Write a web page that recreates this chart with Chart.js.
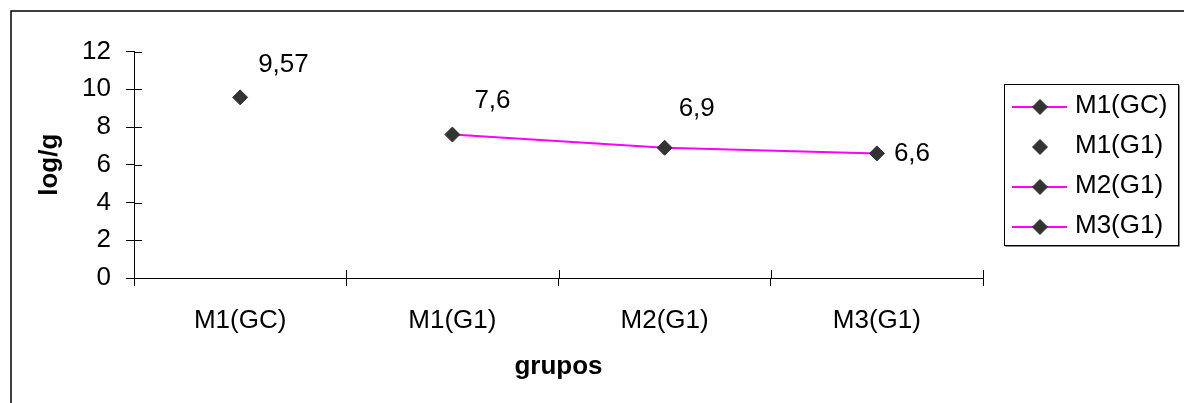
<!DOCTYPE html>
<html><head><meta charset="utf-8">
<script src="https://cdn.jsdelivr.net/npm/chart.js@4/dist/chart.umd.min.js"></script>
<style>html,body{margin:0;padding:0;background:#fff;overflow:hidden}canvas{display:block}</style>
</head><body>
<canvas id="c" width="1184" height="403"></canvas>
<script>
// ---- data ----
const categories = ['M1(GC)', 'M1(G1)', 'M2(G1)', 'M3(G1)'];
const seriesNames = ['M1(GC)', 'M1(G1)', 'M2(G1)', 'M3(G1)'];
const connectedValues = [null, 7.6, 6.9, 6.6];
const isolatedValues = [9.57, null, null, null];
const emptyValues = [null, null, null, null];
const yTicks = [0, 2, 4, 6, 8, 10, 12];
const xTitle = 'grupos';
const yTitle = 'log/g';

// ---- styles ----
const FONT = "'Liberation Sans', Arial, sans-serif";
const FS = 26;
const MAGENTA = '#ff00ff';
const MARK = '#333333';
const labelOffsets = [{dx: 18, dy: -33}, {dx: 22, dy: -34}, {dx: 14, dy: -39}, {dx: 17, dy: 0}];

function ds(label, data, showLine) {
  return {
    label, data, showLine,
    borderColor: MAGENTA, borderWidth: 2,
    pointStyle: 'rectRot', pointRadius: 7.5, pointHoverRadius: 7.5,
    pointBackgroundColor: MARK, pointBorderColor: MARK, pointBorderWidth: 1,
    spanGaps: false, clip: false
  };
}

const decorPlugin = {
  id: 'decor',
  beforeDraw(chart) {
    const ctx = chart.ctx;
    ctx.save();
    ctx.fillStyle = '#fff';
    ctx.fillRect(0, 0, chart.width, chart.height);
    ctx.strokeStyle = '#000';
    ctx.lineWidth = 1.5;
    ctx.beginPath();
    ctx.moveTo(11, chart.height + 2);
    ctx.lineTo(11, 11);
    ctx.lineTo(chart.width + 2, 11);
    ctx.stroke();
    ctx.restore();
  },
  afterDraw(chart) {
    const ctx = chart.ctx;
    const xs = chart.scales.x, ys = chart.scales.y;
    ctx.save();
    // inner halves of tick marks
    ctx.strokeStyle = '#000';
    ctx.lineWidth = 1;
    ctx.beginPath();
    ys.ticks.forEach(t => {
      const y = Math.round(ys.getPixelForValue(t.value)) + 0.5;
      ctx.moveTo(xs.left, y); ctx.lineTo(xs.left + 8, y);
    });
    for (let i = 0; i <= categories.length; i++) {
      const x = Math.round(xs.getPixelForValue(i - 0.5)) + 0.5;
      ctx.moveTo(x, ys.bottom); ctx.lineTo(x, ys.bottom - 8);
    }
    ctx.stroke();

    // data labels
    ctx.fillStyle = '#000';
    ctx.font = FS + 'px ' + FONT;
    ctx.textAlign = 'left';
    ctx.textBaseline = 'middle';
    chart.data.datasets.forEach((d, di) => {
      const meta = chart.getDatasetMeta(di);
      d.data.forEach((v, i) => {
        if (v === null || v === undefined) return;
        const el = meta.data[i];
        const off = labelOffsets[i];
        ctx.fillText(String(v).replace('.', ','), el.x + off.dx, el.y + off.dy);
      });
    });

    // legend
    const bx = 1004.5, by = 84.5, bw = 174, bh = 161;
    ctx.fillStyle = '#fff';
    ctx.fillRect(bx, by, bw, bh);
    ctx.strokeStyle = '#888';
    ctx.beginPath();
    ctx.moveTo(bx + 1, by + bh + 1); ctx.lineTo(bx + bw + 1, by + bh + 1); ctx.lineTo(bx + bw + 1, by + 1);
    ctx.stroke();
    ctx.strokeStyle = '#000';
    ctx.strokeRect(bx, by, bw, bh);
    chart.data.datasets.forEach((d, i) => {
      const y = 107 + i * 40;
      if (d.showLine) {
        ctx.strokeStyle = MAGENTA; ctx.lineWidth = 2;
        ctx.beginPath(); ctx.moveTo(1012, y); ctx.lineTo(1067, y); ctx.stroke();
      }
      ctx.fillStyle = MARK; ctx.strokeStyle = MARK; ctx.lineWidth = 1;
      Chart.helpers.drawPoint(ctx, {pointStyle: 'rectRot', radius: 7.5, borderWidth: 1}, 1040, y);
      ctx.fillStyle = '#000';
      ctx.font = FS + 'px ' + FONT;
      ctx.textBaseline = 'middle';
      ctx.fillText(d.label, 1075, y - 1);
    });
    ctx.restore();
  }
};

new Chart(document.getElementById('c'), {
  type: 'line',
  data: {
    labels: categories,
    datasets: [
      ds(seriesNames[0], connectedValues, true),
      ds(seriesNames[1], isolatedValues, false),
      ds(seriesNames[2], emptyValues, true),
      ds(seriesNames[3], emptyValues, true)
    ]
  },
  options: {
    responsive: false,
    animation: false,
    events: [],
    layout: {padding: {left: 0, top: 51.5, right: 201, bottom: 0}},
    plugins: {legend: {display: false}, tooltip: {enabled: false}},
    scales: {
      x: {
        type: 'category',
        offset: true,
        grid: {offset: true, drawOnChartArea: false, drawTicks: true, tickLength: 8, color: '#000', lineWidth: 1},
        border: {display: true, color: '#000', width: 1},
        ticks: {color: '#000', font: {family: FONT, size: FS}, padding: 19, maxRotation: 0, autoSkip: false},
        title: {display: true, text: xTitle, color: '#000', font: {family: FONT, size: FS, weight: 'bold'}, padding: {top: 0, bottom: 21}},
        afterFit(s) { s.height = 125; }
      },
      y: {
        min: 0, max: 12,
        afterBuildTicks(s) { s.ticks = yTicks.map(v => ({value: v})); },
        grid: {drawOnChartArea: false, drawTicks: true, tickLength: 8, color: '#000', lineWidth: 1},
        border: {display: true, color: '#000', width: 1},
        ticks: {color: '#000', font: {family: FONT, size: FS}, padding: 15},
        title: {display: true, text: yTitle, color: '#000', font: {family: FONT, size: FS, weight: 'bold'}, padding: {top: 34, bottom: 0}},
        afterFit(s) { s.width = 134; }
      }
    }
  },
  plugins: [decorPlugin]
});
</script>
</body></html>
